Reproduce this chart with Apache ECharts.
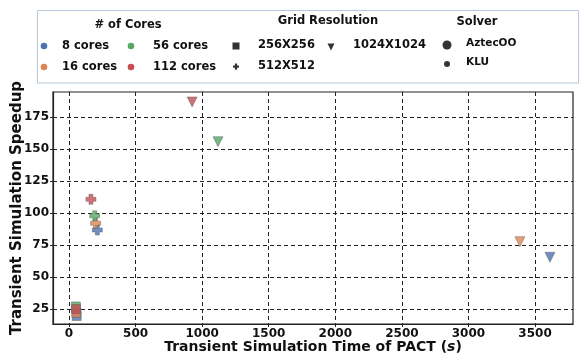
<!DOCTYPE html>
<html><head><meta charset="utf-8">
<script src="https://cdn.jsdelivr.net/npm/echarts@6/dist/echarts.min.js"></script>
<style>html,body{margin:0;padding:0;background:#fff}#c{width:580px;height:358px}</style>
</head><body><div id="c"></div>
<script>
const cores = ['8 cores', '16 cores', '56 cores', '112 cores'];
const coreColors = ['#4C72B0', '#DD8452', '#55A868', '#C44E52'];
const time256 = [58, 55, 52, 53];
const speedup256 = [19.5, 22, 27, 25];
const time512 = [213, 200, 193, 165];
const speedup512 = [86.7, 92, 97.9, 110.7];
const time1024 = [3612, 3386, 1119, 925];
const speedup1024 = [65.4, 77.6, 155.7, 186.7];
const xTicks = [0, 500, 1000, 1500, 2000, 2500, 3000, 3500];
const yTicks = [25, 50, 75, 100, 125, 150, 175];
const gridNames = ['256X256', '512X512', '1024X1024'];
const solverNames = ['AztecOO', 'KLU'];

const FONT = 'DejaVu Sans';
const plusPath = 'path://M3,0H7V3H10V7H7V10H3V7H0V3H3Z';

const series = [];
const groups = [
  {t: time256, s: speedup256, symbol: 'rect', size: 9, rot: 0},
  {t: time512, s: speedup512, symbol: plusPath, size: 10, rot: 0},
  {t: time1024, s: speedup1024, symbol: 'triangle', size: 10, rot: 180}
];
groups.forEach(gr => {
  cores.forEach((c, i) => {
    series.push({
      type: 'scatter', name: c,
      data: [[gr.t[i], gr.s[i]]],
      symbol: gr.symbol, symbolSize: gr.size, symbolRotate: gr.rot,
      itemStyle: {color: coreColors[i], opacity: 0.8, borderColor: '#555', borderWidth: 0.5},
      z: 3
    });
  });
});

const g = [];
const F = (s) => 'bold ' + s + 'px "' + FONT + '"';
g.push({type: 'rect', shape: {x: 37.5, y: 10.5, width: 541, height: 72.5}, style: {fill: '#fff', stroke: '#b8c8dc', lineWidth: 1}, z: 10});
g.push({type: 'text', x: 128, y: 25, style: {text: '# of Cores', font: F(11.5), fill: '#111', align: 'center', verticalAlign: 'middle'}, z: 11});
g.push({type: 'text', x: 328, y: 21, style: {text: 'Grid Resolution', font: F(11.5), fill: '#111', align: 'center', verticalAlign: 'middle'}, z: 11});
g.push({type: 'text', x: 477, y: 22, style: {text: 'Solver', font: F(11.5), fill: '#111', align: 'center', verticalAlign: 'middle'}, z: 11});
const coreLayout = [[44, 46, 62], [44, 67, 62], [131, 46, 153], [131, 67, 153]];
cores.forEach((c, i) => {
  const L = coreLayout[i];
  g.push({type: 'circle', shape: {cx: L[0], cy: L[1], r: 3.3}, style: {fill: coreColors[i]}, z: 11});
  g.push({type: 'text', x: L[2], y: L[1], style: {text: c, font: F(11.5), fill: '#111', verticalAlign: 'middle'}, z: 11});
});
g.push({type: 'rect', shape: {x: 232.5, y: 42.5, width: 7, height: 7}, style: {fill: '#333'}, z: 11});
g.push({type: 'text', x: 258, y: 45, style: {text: gridNames[0], font: F(11.5), fill: '#111', verticalAlign: 'middle'}, z: 11});
g.push({type: 'rect', shape: {x: 233, y: 65.5, width: 6, height: 2.2}, style: {fill: '#333'}, z: 11});
g.push({type: 'rect', shape: {x: 234.9, y: 63.5, width: 2.2, height: 6.2}, style: {fill: '#333'}, z: 11});
g.push({type: 'text', x: 258, y: 66, style: {text: gridNames[1], font: F(11.5), fill: '#111', verticalAlign: 'middle'}, z: 11});
g.push({type: 'polygon', shape: {points: [[327.5, 43.5], [334.5, 43.5], [331, 50.5]]}, style: {fill: '#333'}, z: 11});
g.push({type: 'text', x: 353, y: 45, style: {text: gridNames[2], font: F(11.5), fill: '#111', verticalAlign: 'middle'}, z: 11});
g.push({type: 'circle', shape: {cx: 447, cy: 45, r: 4.5}, style: {fill: '#333'}, z: 11});
g.push({type: 'text', x: 466, y: 43, style: {text: solverNames[0], font: F(10.5), fill: '#111', verticalAlign: 'middle'}, z: 11});
g.push({type: 'circle', shape: {cx: 447, cy: 64, r: 3}, style: {fill: '#333'}, z: 11});
g.push({type: 'text', x: 466, y: 62, style: {text: solverNames[1], font: F(10.5), fill: '#111', verticalAlign: 'middle'}, z: 11});

const chart = echarts.init(document.getElementById('c'), null, {renderer: 'canvas'});
chart.setOption({
  animation: false,
  backgroundColor: '#fff',
  grid: {left: 53, right: 7, top: 92, bottom: 34, show: false, containLabel: false, outerBoundsMode: 'none'},
  xAxis: {
    type: 'value', min: -120, max: 3785,
    name: '{a|Transient Simulation Time of PACT (}{b|s}{a|)}',
    nameLocation: 'middle', nameGap: 16, nameMoveOverlap: false,
    nameTextStyle: {rich: {a: {fontFamily: FONT, fontWeight: 'bold', fontSize: 14, color: '#111'}, b: {fontFamily: FONT, fontWeight: 'bold', fontStyle: 'italic', fontSize: 14, color: '#111'}}},
    axisLine: {show: true, onZero: false, lineStyle: {color: '#222', width: 1.2}},
    axisTick: {show: true, length: 3, customValues: xTicks, lineStyle: {color: '#222'}},
    axisLabel: {customValues: xTicks, formatter: v => String(v), fontFamily: FONT, fontWeight: 'bold', fontSize: 12, color: '#111', margin: 4},
    splitLine: {show: true, lineStyle: {color: '#222', type: [4, 3], width: 1}}
  },
  yAxis: {
    type: 'value', min: 13.3, max: 194.5,
    name: 'Transient Simulation Speedup', nameLocation: 'middle', nameGap: 28, nameMoveOverlap: false,
    nameTextStyle: {fontFamily: FONT, fontWeight: 'bold', fontSize: 15, color: '#111'},
    axisLine: {show: true, onZero: false, lineStyle: {color: '#222', width: 1.2}},
    axisTick: {show: true, length: 3, customValues: yTicks, lineStyle: {color: '#222'}},
    axisLabel: {customValues: yTicks, formatter: v => String(v), fontFamily: FONT, fontWeight: 'bold', fontSize: 12, color: '#111', margin: 4},
    splitLine: {show: true, lineStyle: {color: '#222', type: [4, 3], width: 1}}
  },
  graphic: [
    {type: 'rect', shape: {x: 53, y: 92, width: 520, height: 232}, style: {fill: 'none', stroke: '#222', lineWidth: 1.2}, z: 5, silent: true}
  ].concat(g),
  series: series
});
</script></body></html>
